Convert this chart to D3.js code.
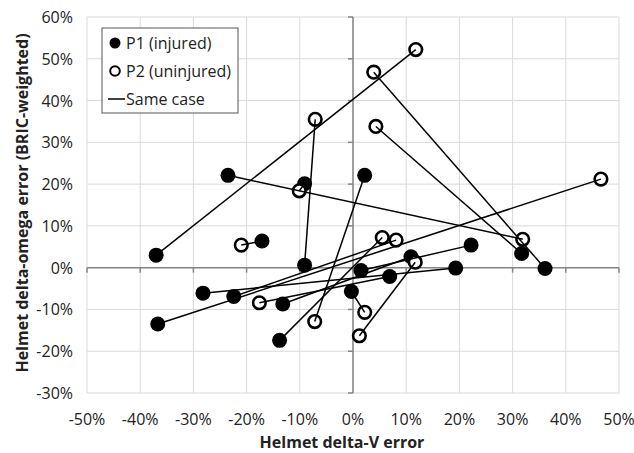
<html><head>
<meta charset="utf-8">
<script src="https://d3js.org/d3.v7.min.js"></script>
<style>
  body { margin: 0; background: white; font-family: "Open Sans", Arial, sans-serif; }
  .grid line { stroke: #d9d9d9; stroke-width: 1; }
  .tick-label { font-size: 16px; fill: #222; }
  .axis-title { font-size: 16px; font-weight: bold; fill: #222; }
  .link { stroke: black; stroke-width: 1.5; fill: none; }
</style>
</head>
<body>
<div id="chart"></div>
<script>
// P1 (injured) points
var p1Id = ["a", "b", "c", "d", "e", "f", "g", "h", "i", "j", "k", "l", "m", "n", "o", "p", "q", "r", "s"];
var p1X = [-37.0, -36.7, -28.2, -22.4, -23.5, -17.1, -9.1, -9.1, -13.2, -13.8, 2.2, -0.3, 1.5, 6.9, 10.9, 19.3, 22.2, 31.7, 36.1];
var p1Y = [3.0, -13.5, -6.1, -6.9, 22.1, 6.4, 20.1, 0.6, -8.7, -17.4, 22.1, -5.7, -0.7, -2.1, 2.6, -0.1, 5.4, 3.4, -0.2];

// P2 (uninjured) points
var p2Id = ["A", "B", "C", "D", "E", "F", "G", "H", "I", "J", "K", "L", "M", "N", "O"];
var p2X = [11.8, 3.9, 4.3, -7.1, -10.1, -21.0, 5.5, 8.1, -17.6, -7.2, 2.2, 1.2, 11.7, 31.9, 46.6];
var p2Y = [52.2, 46.8, 33.8, 35.5, 18.4, 5.4, 7.2, 6.6, -8.4, -12.9, -10.7, -16.3, 1.3, 6.8, 21.2];

// same case links
var sameCase = [["a","A"], ["e","N"], ["s","B"], ["r","C"], ["g","E"], ["f","F"], ["h","D"], ["k","J"],
  ["l","K"], ["c","p"], ["j","G"], ["i","o"], ["L","M"], ["b","O"], ["d","H"], ["m","q"], ["I","n"]];

var xTicks = [-50, -40, -30, -20, -10, 0, 10, 20, 30, 40, 50];
var yTicks = [-30, -20, -10, 0, 10, 20, 30, 40, 50, 60];
var legendItems = ["P1 (injured)", "P2 (uninjured)", "Same case"];

var width = 634, height = 453;
var margin = {top: 17, right: 15, bottom: 60, left: 87};

var svg = d3.select("#chart").append("svg")
  .attr("width", width)
  .attr("height", height);

var xScale = d3.scaleLinear().domain([-50, 50]).range([margin.left, width - margin.right]);
var yScale = d3.scaleLinear().domain([-30, 60]).range([height - margin.bottom, margin.top]);

// gridlines
var grid = svg.append("g").attr("class", "grid");
grid.selectAll(".v").data(xTicks).enter().append("line")
  .attr("x1", d => xScale(d)).attr("x2", d => xScale(d))
  .attr("y1", yScale(-30)).attr("y2", yScale(60));
grid.selectAll(".h").data(yTicks).enter().append("line")
  .attr("y1", d => yScale(d)).attr("y2", d => yScale(d))
  .attr("x1", xScale(-50)).attr("x2", xScale(50));

// axes through zero
var axisColor = "#868686";
svg.append("line").attr("x1", xScale(-50)).attr("x2", xScale(50))
  .attr("y1", yScale(0)).attr("y2", yScale(0))
  .style("stroke", axisColor).style("stroke-width", 1.5);
svg.append("line").attr("x1", xScale(0)).attr("x2", xScale(0))
  .attr("y1", yScale(-30)).attr("y2", yScale(60))
  .style("stroke", axisColor).style("stroke-width", 1.5);
svg.selectAll(".xt").data(xTicks).enter().append("line")
  .attr("x1", d => xScale(d)).attr("x2", d => xScale(d))
  .attr("y1", yScale(0)).attr("y2", yScale(0) + 5)
  .style("stroke", axisColor).style("stroke-width", 1.5);
svg.selectAll(".yt").data(yTicks).enter().append("line")
  .attr("x1", xScale(0) - 5).attr("x2", xScale(0))
  .attr("y1", d => yScale(d)).attr("y2", d => yScale(d))
  .style("stroke", axisColor).style("stroke-width", 1.5);

// tick labels
svg.selectAll(".xl").data(xTicks).enter().append("text")
  .attr("class", "tick-label")
  .attr("x", d => xScale(d))
  .attr("y", 425)
  .attr("text-anchor", "middle")
  .text(d => d + "%");
svg.selectAll(".yl").data(yTicks).enter().append("text")
  .attr("class", "tick-label")
  .attr("x", 73)
  .attr("y", d => yScale(d) + 6)
  .attr("text-anchor", "end")
  .text(d => d + "%");

// axis titles
svg.append("text").attr("class", "axis-title")
  .attr("x", 342).attr("y", 448)
  .attr("text-anchor", "middle")
  .text("Helmet delta-V error");
svg.append("text").attr("class", "axis-title")
  .attr("transform", "translate(28," + 203 + ") rotate(-90)")
  .attr("text-anchor", "middle")
  .text("Helmet delta-omega error (BRIC-weighted)");

// lookup for points
var pos = {};
p1Id.forEach((id, i) => pos[id] = [p1X[i], p1Y[i]]);
p2Id.forEach((id, i) => pos[id] = [p2X[i], p2Y[i]]);

// markers
svg.selectAll(".p1").data(p1Id).enter().append("circle")
  .attr("cx", (d, i) => xScale(p1X[i]))
  .attr("cy", (d, i) => yScale(p1Y[i]))
  .attr("r", 7.5)
  .style("fill", "black");
svg.selectAll(".p2").data(p2Id).enter().append("circle")
  .attr("cx", (d, i) => xScale(p2X[i]))
  .attr("cy", (d, i) => yScale(p2Y[i]))
  .attr("r", 6.3)
  .style("fill", "white")
  .style("stroke", "black")
  .style("stroke-width", 2.6);

// same case lines
svg.selectAll(".link").data(sameCase).enter().append("line")
  .attr("class", "link")
  .attr("x1", d => xScale(pos[d[0]][0]))
  .attr("y1", d => yScale(pos[d[0]][1]))
  .attr("x2", d => xScale(pos[d[1]][0]))
  .attr("y2", d => yScale(pos[d[1]][1]));

// legend
var legend = svg.append("g").attr("transform", "translate(102,28)");
legend.append("rect")
  .attr("width", 136).attr("height", 85)
  .style("fill", "white").style("stroke", "#555").style("stroke-width", 1);
legend.append("circle").attr("cx", 13).attr("cy", 15).attr("r", 5.5).style("fill", "black");
legend.append("circle").attr("cx", 13).attr("cy", 43).attr("r", 4.8)
  .style("fill", "white").style("stroke", "black").style("stroke-width", 2);
legend.append("line").attr("x1", 6).attr("x2", 23).attr("y1", 71).attr("y2", 71)
  .style("stroke", "black").style("stroke-width", 1.5);
legend.selectAll(".lt").data(legendItems).enter().append("text")
  .attr("x", 24)
  .attr("y", (d, i) => 21 + i * 28)
  .style("font-size", "16px")
  .style("fill", "#222")
  .text(d => d);
</script>
</body></html>
